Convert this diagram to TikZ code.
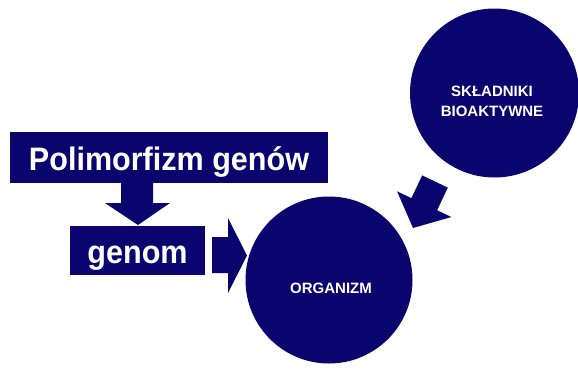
\documentclass[tikz,border=0pt]{standalone}
\usepackage{fontspec}
\setmainfont{Liberation Sans}
\newfontfamily\boxfont[FakeStretch=0.94]{Liberation Sans}
\definecolor{navy}{RGB}{10,5,110}
\tikzset{
  box/.style={fill=navy, draw=none, inner sep=0pt, text=white,
    font=\boxfont\bfseries\fontsize{32.5}{38}\selectfont, text height=25pt, text depth=0pt},
  disc/.style={circle, fill=navy, draw=none, inner sep=0pt},
  disclabel/.style={text=white, inner sep=0pt, align=center,
    font=\bfseries\fontsize{15}{20}\selectfont},
  blockarrow/.style={fill=navy, draw=none}
}
\begin{document}
\begin{tikzpicture}[x=1pt,y=-1pt]
\useasboundingbox (0,0) rectangle (578,370);
% boxes
\node[box, minimum width=318pt, minimum height=51pt] (poly) at (169,157.5) {Polimorfizm genów};
\node[box, minimum width=135pt, minimum height=49pt] (genom) at (137.5,250.5) {genom};
% circles
\node[disc, minimum size=167pt] (org) at (329,280) {};
\node[disc, minimum size=169pt] (skl) at (494.5,93) {};
\node[disclabel] (orgtext) at (331,288.5) {ORGANIZM};
\node[disclabel] (skltext) at (492,101) {SKŁADNIKI\\BIOAKTYWNE};
% down arrow
\fill[blockarrow] (121,183) -- (153,183) -- (153,203) -- (170,203) -- (138,225)
  -- (105,203) -- (121,203) -- cycle;
% right arrow
\fill[blockarrow] (212,237) -- (228,237) -- (228,218) -- (247,255.5) -- (228,293)
  -- (228,273) -- (212,273) -- cycle;
% diagonal arrow
\fill[blockarrow] (422.2,175.4) -- (447.8,187.6) -- (437.1,210.3) -- (451.4,217.0)
  -- (413,228) -- (397.1,191.4) -- (411.4,198.1) -- cycle;
\end{tikzpicture}
\end{document}
